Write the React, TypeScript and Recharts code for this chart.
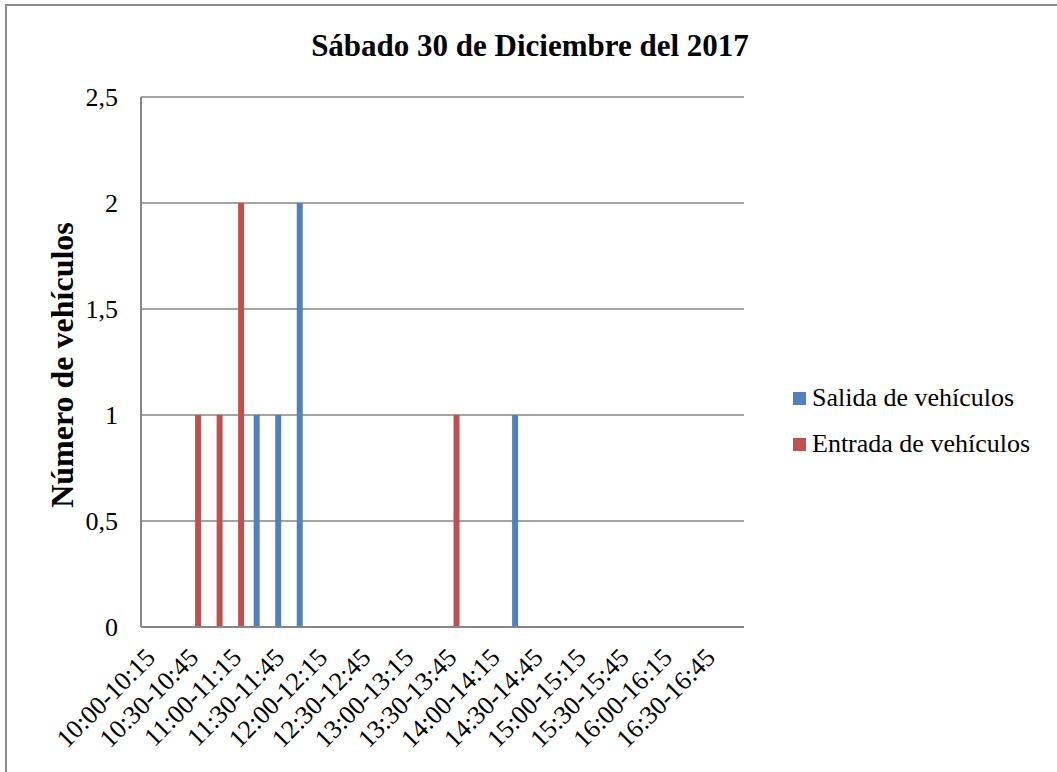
import React from "react";
import {
  BarChart,
  Bar,
  XAxis,
  YAxis,
  CartesianGrid,
  Legend,
} from "recharts";

// 15-minute slots, 10:00 to 17:00
const categories = [
  "10:00-10:15", "10:15-10:30", "10:30-10:45", "10:45-11:00",
  "11:00-11:15", "11:15-11:30", "11:30-11:45", "11:45-12:00",
  "12:00-12:15", "12:15-12:30", "12:30-12:45", "12:45-13:00",
  "13:00-13:15", "13:15-13:30", "13:30-13:45", "13:45-14:00",
  "14:00-14:15", "14:15-14:30", "14:30-14:45", "14:45-15:00",
  "15:00-15:15", "15:15-15:30", "15:30-15:45", "15:45-16:00",
  "16:00-16:15", "16:15-16:30", "16:30-16:45", "16:45-17:00",
];

const salida = [0, 0, 0, 0, 0, 1, 1, 2, 0, 0, 0, 0, 0, 0, 0, 0, 0, 1, 0, 0, 0, 0, 0, 0, 0, 0, 0, 0];
const entrada = [0, 0, 1, 1, 2, 0, 0, 0, 0, 0, 0, 0, 0, 0, 1, 0, 0, 0, 0, 0, 0, 0, 0, 0, 0, 0, 0, 0];

const seriesOrder = ["salida", "entrada"];
const yTicks = [0, 0.5, 1, 1.5, 2, 2.5];

const data = categories.map((slot, i) => ({
  slot,
  salida: salida[i],
  entrada: entrada[i],
}));

const FONT = '"Liberation Serif", "Times New Roman", serif';
const BLUE = "#4F81BD";
const RED = "#C0504D";
const GRID = "#868686";

const SlotTick = (props: any) => {
  const { x, y, payload } = props;
  return (
    <g transform={`translate(${x + 5},${y + 24})`}>
      <text
        x={0}
        y={0}
        textAnchor="end"
        transform="rotate(-45)"
        fontFamily={FONT}
        fontSize={26}
        fill="#000"
      >
        {payload.value}
      </text>
    </g>
  );
};

const LegendBox = (props: any) => {
  const items = [...(props.payload || [])].sort(
    (a: any, b: any) =>
      seriesOrder.indexOf(a.dataKey) - seriesOrder.indexOf(b.dataKey)
  );
  return (
    <div style={{ fontFamily: FONT, fontSize: 26, color: "#000" }}>
      {items.map((p: any) => (
        <div
          key={p.value}
          style={{ display: "flex", alignItems: "center", height: 46 }}
        >
          <span
            style={{
              display: "inline-block",
              width: 13,
              height: 13,
              background: p.color,
              marginRight: 6,
            }}
          />
          <span>{p.value}</span>
        </div>
      ))}
    </div>
  );
};

const YTitle = (props: any) => {
  const { viewBox } = props;
  const cx = 62;
  const cy = viewBox.y + viewBox.height / 2 + 3;
  return (
    <text
      x={cx}
      y={cy}
      transform={`rotate(-90 ${cx} ${cy})`}
      textAnchor="middle"
      dominantBaseline="central"
      fontFamily={FONT}
      fontSize={32}
      fontWeight="bold"
      fill="#000"
    >
      Número de vehículos
    </text>
  );
};

export default function App() {
  return (
    <div
      style={{
        position: "absolute",
        left: 0,
        top: 0,
        width: 1057,
        height: 772,
        overflow: "hidden",
        background: "#fff",
      }}
    >
      <div
        style={{
          position: "absolute",
          left: 5,
          top: 4,
          width: 1100,
          height: 820,
          border: "2px solid #8c8c8c",
        }}
      />
      <div
        style={{
          position: "absolute",
          left: 0,
          width: 1060,
          top: 28,
          textAlign: "center",
          fontFamily: FONT,
          fontWeight: "bold",
          fontSize: 31,
          color: "#000",
        }}
      >
        Sábado 30 de Diciembre del 2017
      </div>
      <div style={{ position: "absolute", left: 0, top: 0 }}>
        <BarChart
          width={1057}
          height={772}
          data={data}
          margin={{ top: 97, right: 53, bottom: 0, left: 0 }}
          barSize={6}
          barGap={0}
        >
          <CartesianGrid vertical={false} stroke={GRID} strokeWidth={1.5} />
          <XAxis
            dataKey="slot"
            interval={1}
            height={145}
            tickLine={false}
            axisLine={{ stroke: GRID, strokeWidth: 2 }}
            tick={<SlotTick />}
          />
          <YAxis
            width={141}
            domain={[0, 2.5]}
            ticks={yTicks}
            tickLine={false}
            tickMargin={17}
            axisLine={{ stroke: GRID, strokeWidth: 2 }}
            tickFormatter={(v: number) => String(v).replace(".", ",")}
            tick={{ fill: "#000", fontSize: 26, fontFamily: FONT }}
            label={<YTitle />}
          />
          <Legend
            layout="vertical"
            align="right"
            verticalAlign="top"
            content={<LegendBox />}
            wrapperStyle={{ left: 793, top: 375, width: 260 }}
          />
          <Bar
            dataKey="salida"
            name="Salida de vehículos"
            fill={BLUE}
            isAnimationActive={false}
          />
          <Bar
            dataKey="entrada"
            name="Entrada de vehículos"
            fill={RED}
            isAnimationActive={false}
          />
        </BarChart>
      </div>
    </div>
  );
}
